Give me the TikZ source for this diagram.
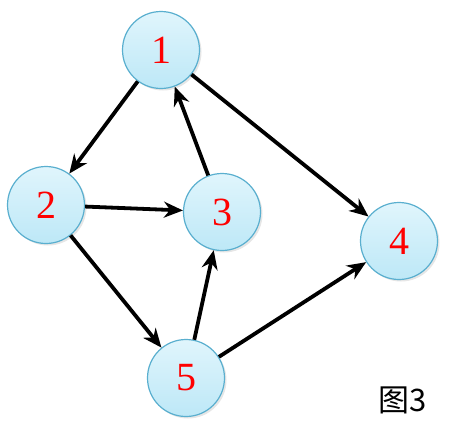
\documentclass[tikz,border=0pt]{standalone}
\usepackage{fontspec}
\newfontfamily\cjk{Noto Sans CJK SC}
\newfontfamily\numfont{Liberation Serif}
\usetikzlibrary{arrows.meta,shadows}
\definecolor{nodeborder}{HTML}{5AAFCF}
\definecolor{nodefill}{HTML}{BDE8F7}
\definecolor{nodetop}{HTML}{E0F5FC}
\tikzset{
  vert/.style={circle, minimum size=77pt, inner sep=0pt, draw=nodeborder, line width=1.2pt,
    top color=nodetop, bottom color=nodefill, text=red,
    font=\numfont\fontsize{40}{40}\selectfont,
    drop shadow={shadow xshift=2pt, shadow yshift=-2pt, opacity=0.2}},
  edge/.style={-{Stealth[length=19pt,width=16pt]}, line width=3.8pt, black}
}
\begin{document}
\begin{tikzpicture}[x=1pt,y=-1pt]
\useasboundingbox (0,0) rectangle (455,426);
\node[vert] (n1) at (161,50) {1};
\node[vert] (n2) at (46,205) {2};
\node[vert] (n3) at (222,212) {3};
\node[vert] (n4) at (399,241) {4};
\node[vert] (n5) at (186,378) {5};
\node[font=\cjk\fontsize{31}{31}\selectfont] (lbl) at (403,400) {图3};
\draw[edge] (n1) -- (n2);
\draw[edge] (n3) -- (n1);
\draw[edge] (n1) -- (n4);
\draw[edge] (n2) -- (n3);
\draw[edge] (n2) -- (n5);
\draw[edge] (n5) -- (n3);
\draw[edge] (n5) -- (n4);
\end{tikzpicture}
\end{document}
